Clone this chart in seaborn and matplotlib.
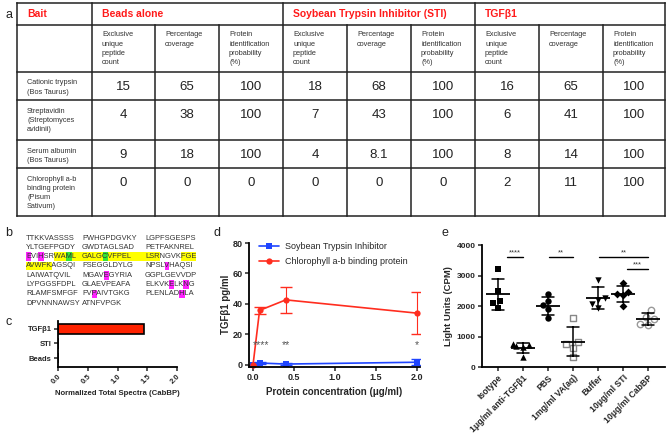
"""Five-panel figure: proteomics table, sequence coverage, spectra bar,
TGFb1 dose response and luciferase assay scatter."""
import numpy as np
import pandas as pd
import matplotlib
matplotlib.use("Agg")
import matplotlib.pyplot as plt
from matplotlib.patches import Rectangle
import seaborn as sns

W, H = 669, 436

# ---------------- data ----------------
# panel a
TABLE_BAITS = ["Beads alone", "Soybean Trypsin Inhibitor (STI)", "TGFβ1"]
TABLE_METRICS = [
    ["Exclusive", "unique", "peptide", "count"],
    ["Percentage", "coverage"],
    ["Protein", "identification", "probability", "(%)"],
]
TABLE_PROTEINS = [
    ["Cationic trypsin", "(Bos Taurus)"],
    ["Streptavidin", "(Streptomyces", "avidinii)"],
    ["Serum albumin", "(Bos Taurus)"],
    ["Chlorophyll a-b", "binding protein", "(Pisum", "Sativum)"],
]
TABLE_VALUES = [
    ["15", "65", "100", "18", "68", "100", "16", "65", "100"],
    ["4", "38", "100", "7", "43", "100", "6", "41", "100"],
    ["9", "18", "100", "4", "8.1", "100", "8", "14", "100"],
    ["0", "0", "0", "0", "0", "0", "2", "11", "100"],
]

# panel b
SEQ_LINES = [
    "TTKKVASSSS PWHGPDGVKY LGPFSGESPS",
    "YLTGEFPGDY GWDTAGLSAD PETFAKNREL",
    "EVIHSRWAML GALGCVFPEL LSRNGVKFGE",
    "AVWFKAGSQI FSEGGLDYLG NPSLVHAQSI",
    "LAIWATQVIL MGAVEGYRIA GGPLGEVVDP",
    "LYPGGSFDPL GLAEVPEAFA ELKVKELKNG",
    "RLAMFSMFGF FVPAIVTGKG PLENLADHLA",
    "DPVNNNAWSY ATNFVPGK",
]
# (line, first char, end char, colour)
SEQ_MARKS = [
    (2, 0, 1, "#ff22ff"), (2, 3, 4, "#ff22ff"),
    (2, 6, 8, "#ffff00"), (2, 8, 9, "#33e633"), (2, 9, 15, "#ffff00"),
    (2, 15, 16, "#33e633"), (2, 16, 25, "#ffff00"), (2, 29, 32, "#ffff00"),
    (3, 0, 5, "#ffff00"), (3, 26, 27, "#ff22ff"),
    (4, 15, 16, "#ff22ff"),
    (5, 27, 28, "#ff22ff"), (5, 30, 31, "#ff22ff"),
    (6, 13, 14, "#ff22ff"), (6, 29, 30, "#ff22ff"),
]

# panel c
C_LABELS = ["TGFβ1", "STI", "Beads"]
C_VALUES = [1.44, 0.0, 0.0]

# panel d
D_CONC = [0.0, 0.08, 0.4, 2.0]
D_STI = [0.0, 1.3, 0.6, 1.8]
D_STI_ERR = [0.0, 0.6, 0.5, 1.8]
D_CAB = [0.0, 35.8, 42.7, 34.0]
D_CAB_ERR = [0.0, 2.5, 8.4, 13.7]
D_STARS = ["****", "**", "*"]
D_STAR_X = [0.1, 0.4, 2.0]

# panel e
E_GROUPS = ["Isotype", "1μg/ml anti-TGFβ1", "PBS", "1mg/ml VA(aq)",
            "Buffer", "10μg/ml STI", "10μg/ml CabBP"]
E_VALUES = [
    [3220, 2480, 2170, 1950, 2100],
    [760, 720, 680, 640, 330],
    [2380, 2150, 2020, 1900, 1600],
    [1620, 830, 760, 620, 330],
    [2850, 2250, 2200, 1950, 2050],
    [2750, 2450, 2400, 2350, 2000],
    [1860, 1650, 1560, 1420, 1380],
]
E_SIG_FROM = [0.35, 2.05, 4.05, 5.15]
E_SIG_TO = [1.0, 3.0, 6.0, 6.0]
E_SIG_Y = [3600, 3600, 3600, 3200]
E_SIG_TEXT = ["****", "**", "**", "***"]

# ---------------- style ----------------
sns.set_theme(style="ticks")
plt.rcParams["font.family"] = ["Liberation Sans", "DejaVu Sans"]
plt.rcParams.update({
    "axes.linewidth": 1.3,
    "xtick.major.width": 1.1,
    "ytick.major.width": 1.1,
    "xtick.major.size": 3,
    "ytick.major.size": 3,
    "xtick.major.pad": 1.5,
    "ytick.major.pad": 1.5,
    "axes.edgecolor": "black",
})

fig = plt.figure(figsize=(W / 100, H / 100), dpi=100)


def px_axes(left, top, right, bottom):
    return fig.add_axes([left / W, 1 - bottom / H, (right - left) / W, (bottom - top) / H])


ax0 = fig.add_axes([0, 0, 1, 1])
ax0.set_xlim(0, W)
ax0.set_ylim(H, 0)
ax0.axis("off")

# panel letters
for letter, x, y in [("a", 5, 15), ("b", 5, 233), ("c", 5, 322), ("d", 214, 233), ("e", 441, 233)]:
    ax0.text(x, y, letter, fontsize=9, ha="left", va="center", color="#222")

# ---------------- a: table ----------------
cols = [17, 92, 155, 219, 283, 347, 411, 475, 539, 603, 665]
rows = [3, 25, 72, 100, 140, 168, 216]
line_kw = dict(color="#222", lw=1.1, solid_capstyle="projecting")
for y in rows:
    ax0.plot([cols[0], cols[-1]], [y, y], **line_kw)
for i, x in enumerate(cols):
    top = rows[0] if i in (0, 1, 4, 7, 10) else rows[1]
    ax0.plot([x, x], [top, rows[-1]], **line_kw)

red_kw = dict(color="#ff1a1a", fontsize=7.5, fontweight="bold", ha="left", va="center")
ax0.text(cols[0] + 10, 14, "Bait", **red_kw)
for b, bait in enumerate(TABLE_BAITS):
    ax0.text(cols[1 + 3 * b] + 10, 14, bait, **red_kw)

small_kw = dict(color="#333", fontsize=5.3, ha="left", va="center")
for b in range(len(TABLE_BAITS)):
    for m, metric in enumerate(TABLE_METRICS):
        for k, word in enumerate(metric):
            ax0.text(cols[1 + 3 * b + m] + 10, rows[1] + 10 + 9.3 * k, word, **small_kw)

for r, prot in enumerate(TABLE_PROTEINS):
    for k, word in enumerate(prot):
        ax0.text(cols[0] + 10, rows[2 + r] + 11 + 9.3 * k, word, **small_kw)
    for c, val in enumerate(TABLE_VALUES[r]):
        ax0.text((cols[1 + c] + cols[2 + c]) / 2, rows[2 + r] + 14.5, val,
                 fontsize=9.5, ha="center", va="center", color="#222")

# ---------------- b: sequence ----------------
renderer = fig.canvas.get_renderer()
seq_kw = dict(fontsize=5.45, color="#333", ha="left", va="center")


def text_width(s):
    t = ax0.text(0, 0, s + "|", **seq_kw)
    w1 = t.get_window_extent(renderer).width
    t.set_text("|")
    w2 = t.get_window_extent(renderer).width
    t.remove()
    return w1 - w2


group_x = [26, 82, 145]
line_y = [238 + 9.3 * i for i in range(len(SEQ_LINES))]


def char_x(line, k, end=False):
    g, o = divmod(k, 11)
    group = line.split(" ")[g]
    if o == 10:
        return group_x[g + 1] if end else group_x[g] + text_width(group)
    return group_x[g] + text_width(group[:o + 1] if end else group[:o])


for li, x0, x1, col in SEQ_MARKS:
    line = SEQ_LINES[li]
    xa = char_x(line, x0)
    xb = char_x(line, x1 - 1, end=True)
    ax0.add_patch(Rectangle((xa, line_y[li] - 4.3), xb - xa, 8.6, color=col, lw=0, zorder=1))

for li, line in enumerate(SEQ_LINES):
    for g, group in enumerate(line.split(" ")):
        ax0.text(group_x[g], line_y[li], group, zorder=2, **seq_kw)

# ---------------- c: bar ----------------
axc = px_axes(58, 321, 177, 367)
sns.barplot(x=C_VALUES, y=C_LABELS, orient="h", color="#ff2200", edgecolor="black",
            linewidth=1.2, width=0.75, saturation=1, ax=axc)
axc.set_xlim(0, 2)
axc.set_ylim(2.62, -0.55)
axc.set_xticks([0, 0.5, 1.0, 1.5, 2.0])
axc.set_xticklabels(["0.0", "0.5", "1.0", "1.5", "2.0"], rotation=45, ha="right",
                    rotation_mode="anchor", fontsize=5.5, fontweight="bold")
axc.set_yticks(range(len(C_LABELS)))
axc.set_yticklabels(C_LABELS, fontsize=5.5, fontweight="bold")
axc.set_xlabel("Normalized Total Spectra (CabBP)", fontsize=5.6, fontweight="bold", labelpad=3)
axc.set_ylabel("")
sns.despine(ax=axc)

# ---------------- d: dose response ----------------
axd = px_axes(249, 243, 420, 366.5)
blue, red = "#1f45ff", "#ff2d1f"
axd.errorbar(D_CONC, D_STI, yerr=D_STI_ERR, fmt="none", ecolor=blue, elinewidth=0.8, capsize=4)
axd.errorbar(D_CONC, D_CAB, yerr=D_CAB_ERR, fmt="none", ecolor=red, elinewidth=0.8, capsize=4)
df_d = pd.DataFrame({
    "conc": D_CONC * 2,
    "val": D_STI + D_CAB,
    "protein": ["Soybean Trypsin Inhibitor"] * 4 + ["Chlorophyll a-b binding protein"] * 4,
})
sns.lineplot(data=df_d, x="conc", y="val", hue="protein", style="protein",
             markers=["s", "o"], dashes=False, palette=[blue, red], markersize=4.5,
             markeredgewidth=0, linewidth=1.2, ax=axd, clip_on=False)
axd.set_xlim(-0.049, 2.037)
axd.set_ylim(-1, 80)
axd.set_xticks([0, 0.5, 1.0, 1.5, 2.0])
axd.set_xticklabels(["0.0", "0.5", "1.0", "1.5", "2.0"], fontsize=6.5, fontweight="bold")
axd.set_yticks([0, 20, 40, 60, 80])
axd.set_yticklabels(["0", "20", "40", "60", "80"], fontsize=6.5, fontweight="bold")
axd.set_xlabel("Protein concentration (μg/ml)", fontsize=7, fontweight="bold", labelpad=4)
axd.set_ylabel("TGFβ1 pg/ml", fontsize=7, fontweight="bold", labelpad=1)
for s, x in zip(D_STARS, D_STAR_X):
    axd.text(x, 13, s, ha="center", va="center", fontsize=7.5, color="#555")
leg = axd.legend(loc="upper left", bbox_to_anchor=(0.04, 1.04), frameon=False,
                 fontsize=6.5, handlelength=2.2, handletextpad=0.6, labelspacing=0.7,
                 borderaxespad=0)
sns.despine(ax=axd)

# ---------------- e: scatter ----------------
axe = px_axes(482, 245, 665, 367)
df_e = pd.DataFrame({
    "group": np.repeat(E_GROUPS, [len(v) for v in E_VALUES]),
    "cpm": np.concatenate(E_VALUES),
})
styles = [("s", "black", "black"), ("^", "black", "black"), ("o", "black", "black"),
          ("s", "white", "#888"), ("v", "black", "black"), ("D", "black", "black"),
          ("o", "white", "#999")]
for g, (mk, fc, ec) in zip(E_GROUPS, styles):
    sns.swarmplot(data=df_e[df_e["group"] == g], x="group", y="cpm", order=E_GROUPS,
                  marker=mk, color=fc, edgecolor=ec, linewidth=1.0 if fc == "white" else 0,
                  size=4.6 if mk != "D" else 4.0, ax=axe, zorder=2)
sns.pointplot(data=df_e, x="group", y="cpm", order=E_GROUPS, errorbar="sd",
              color="black", marker="_", markersize=17, markeredgewidth=1.3,
              linestyle="none", capsize=0.45, err_kws={"linewidth": 1.1}, ax=axe, zorder=3)
for x0, x1, y, s in zip(E_SIG_FROM, E_SIG_TO, E_SIG_Y, E_SIG_TEXT):
    axe.plot([x0, x1], [y, y], color="black", lw=1.0)
    axe.text((x0 + x1) / 2, y + 30, s, ha="center", va="bottom", fontsize=5.5, color="#333")
axe.set_xlim(-0.64, 6.68)
axe.set_ylim(0, 4000)
axe.set_yticks([0, 1000, 2000, 3000, 4000])
axe.set_yticklabels(["0", "1000", "2000", "3000", "4000"], fontsize=6, fontweight="bold")
axe.set_xticks(range(len(E_GROUPS)))
axe.set_xticklabels(E_GROUPS, rotation=45, ha="right", rotation_mode="anchor",
                    fontsize=6.2, fontweight="bold")
axe.set_xlabel("")
axe.set_ylabel("Light Units (CPM)", fontsize=6.8, fontweight="bold", labelpad=3)
sns.despine(ax=axe)

fig.savefig("out.png", dpi=100)
